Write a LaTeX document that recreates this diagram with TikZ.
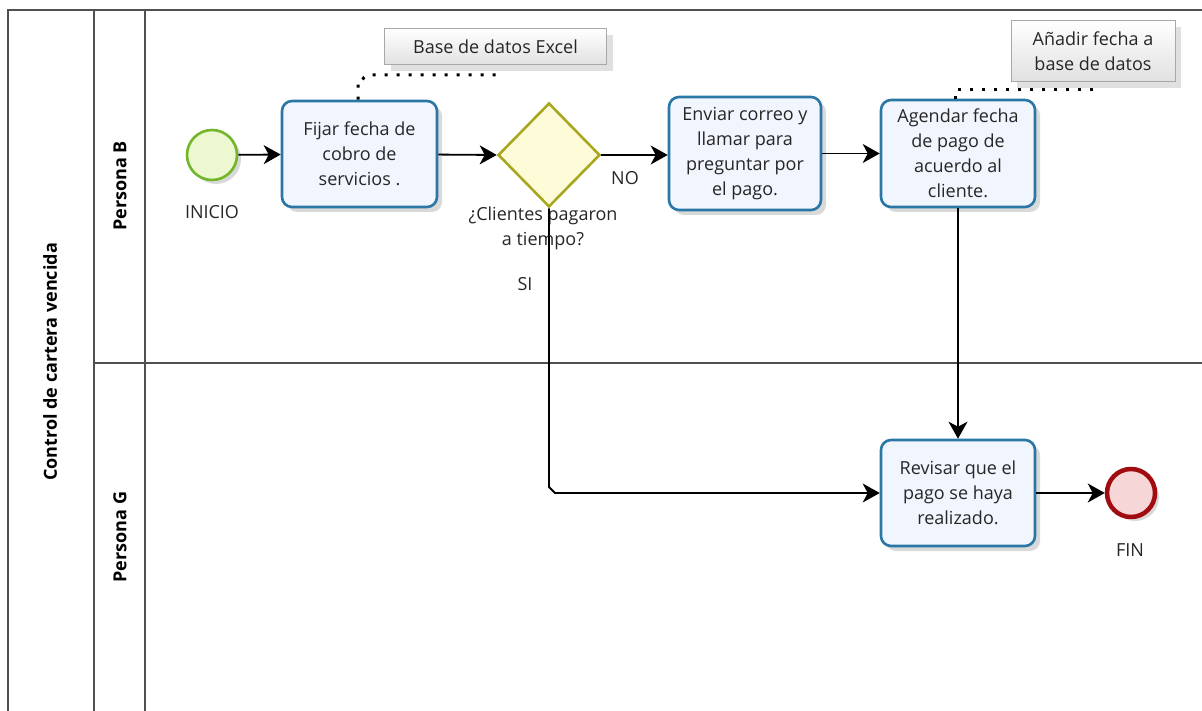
\documentclass[tikz,border=0pt]{standalone}
\usepackage{fontspec}
\setmainfont{Open Sans}
\usetikzlibrary{arrows.meta,shapes.geometric,shadows,calc}
\definecolor{taskborder}{HTML}{2A77A6}
\definecolor{taskfill}{HTML}{F1F5FD}
\definecolor{startborder}{HTML}{72B62A}
\definecolor{startfill}{HTML}{EEF8D0}
\definecolor{endborder}{HTML}{A00C10}
\definecolor{endfill}{HTML}{F7D6D8}
\definecolor{gwborder}{HTML}{A8A820}
\definecolor{gwfill}{HTML}{FDFBD8}
\definecolor{laneline}{HTML}{505050}
\definecolor{annborder}{HTML}{A8A8A8}
\tikzset{
  x=1pt,y=-1pt,
  task/.style={draw=taskborder,line width=2.6pt,rounded corners=10pt,fill=taskfill,
    align=center,font=\fontsize{18}{25}\selectfont,text=black!85,inner sep=0pt,
    drop shadow={shadow xshift=5pt,shadow yshift=-5pt,fill=black,opacity=0.15}},
  startev/.style={circle,draw=startborder,line width=2.6pt,fill=startfill,minimum size=50pt,inner sep=0pt,
    drop shadow={shadow xshift=4pt,shadow yshift=-4pt,fill=black,opacity=0.15}},
  endev/.style={circle,draw=endborder,line width=4.5pt,fill=endfill,minimum size=48pt,inner sep=0pt,
    drop shadow={shadow xshift=4pt,shadow yshift=-4pt,fill=black,opacity=0.15}},
  gateway/.style={diamond,draw=gwborder,line width=2.6pt,fill=gwfill,minimum width=102pt,minimum height=104pt,inner sep=0pt,aspect=1},
  annot/.style={draw=annborder,line width=1pt,top color=white,bottom color=black!12,
    align=center,font=\fontsize{18}{25}\selectfont,text=black!85,inner sep=0pt,
    drop shadow={shadow xshift=6pt,shadow yshift=-6pt,fill=black,opacity=0.12}},
  lbl/.style={font=\fontsize{18}{25}\selectfont,text=black!85,align=center,inner sep=0pt},
  lanelbl/.style={font=\bfseries\fontsize{18}{20}\selectfont,rotate=90,inner sep=0pt},
  flow/.style={line width=1.8pt,-{Stealth[length=17pt,width=19pt,inset=5pt]}},
  assoc/.style={line width=3pt,dash pattern=on 3pt off 9pt},
  lane/.style={draw=laneline,line width=1.2pt}
}
\begin{document}
\begin{tikzpicture}
\useasboundingbox (0,0) rectangle (1202,711);
% pool and lanes
\draw[lane] (8,711) -- (8,10) -- (1202,10);
\draw[lane] (94,10) -- (94,711);
\draw[lane] (145,10) -- (145,711);
\draw[lane] (94,363) -- (1202,363);
\node[lanelbl] (pool) at (50,362) {Control de cartera vencida};
\node[lanelbl] (laneB) at (120,186) {Persona B};
\node[lanelbl] (laneG) at (120,537) {Persona G};
% annotations
\node[annot,minimum width=222pt,minimum height=36pt] (ann1) at (495.5,47) {Base de datos Excel};
\node[annot,minimum width=164pt,minimum height=61pt] (ann2) at (1093,51.5) {Añadir fecha a\\base de datos};
% nodes
\node[startev] (start) at (212,155) {};
\node[lbl] (startlbl) at (212,212) {INICIO};
\node[task,minimum width=155pt,minimum height=106pt] (t1) at (359.5,154) {Fijar fecha de\\cobro de\\servicios .};
\node[gateway] (gw) at (549,155) {};
\node[lbl] (gwlbl) at (543,228) {¿Clientes pagaron\\a tiempo?};
\node[task,minimum width=152pt,minimum height=113pt] (t2) at (745,153.5) {Enviar correo y\\llamar para\\preguntar por\\el pago.};
\node[task,minimum width=154pt,minimum height=107pt] (t3) at (958,153.5) {Agendar fecha\\de pago de\\acuerdo al\\cliente.};
\node[task,minimum width=154pt,minimum height=106pt] (t4) at (958,493) {Revisar que el\\pago se haya\\realizado.};
\node[endev] (end) at (1131,493) {};
\node[lbl] (endlbl) at (1130,550) {FIN};
\node[lbl] (nolbl) at (625,178) {NO};
\node[lbl] (silbl) at (525,284) {SI};
% associations
\coordinate (a1a) at (358,80);
\coordinate (a1b) at (494,75);
\draw[assoc] (t1.north -| a1a) -- (358,84) to[out=-90,in=180] (368,75) -- (a1b) -- (a1b |- ann1.south);
\coordinate (a2a) at (955,90);
\coordinate (a2b) at (1094,90);
\coordinate (a2c) at (1097,90);
\draw[assoc] (t3.north -| a2a) -- (a2a) -- (a2b) -- (a2c |- ann2.south);
% flows
\draw[flow] (start) -- (t1);
\draw[flow] (t1) -- (gw.west);
\draw[flow] (gw.east) -- (t2.west |- gw.east);
\draw[flow] (t2) -- (t3.west |- t2.east);
\draw[flow] (t3) -- (t4);
\draw[flow] (gw.south) -- (549,487) -- (555,493) -- (t4.west);
\draw[flow] (t4) -- (end);
\end{tikzpicture}
\end{document}
